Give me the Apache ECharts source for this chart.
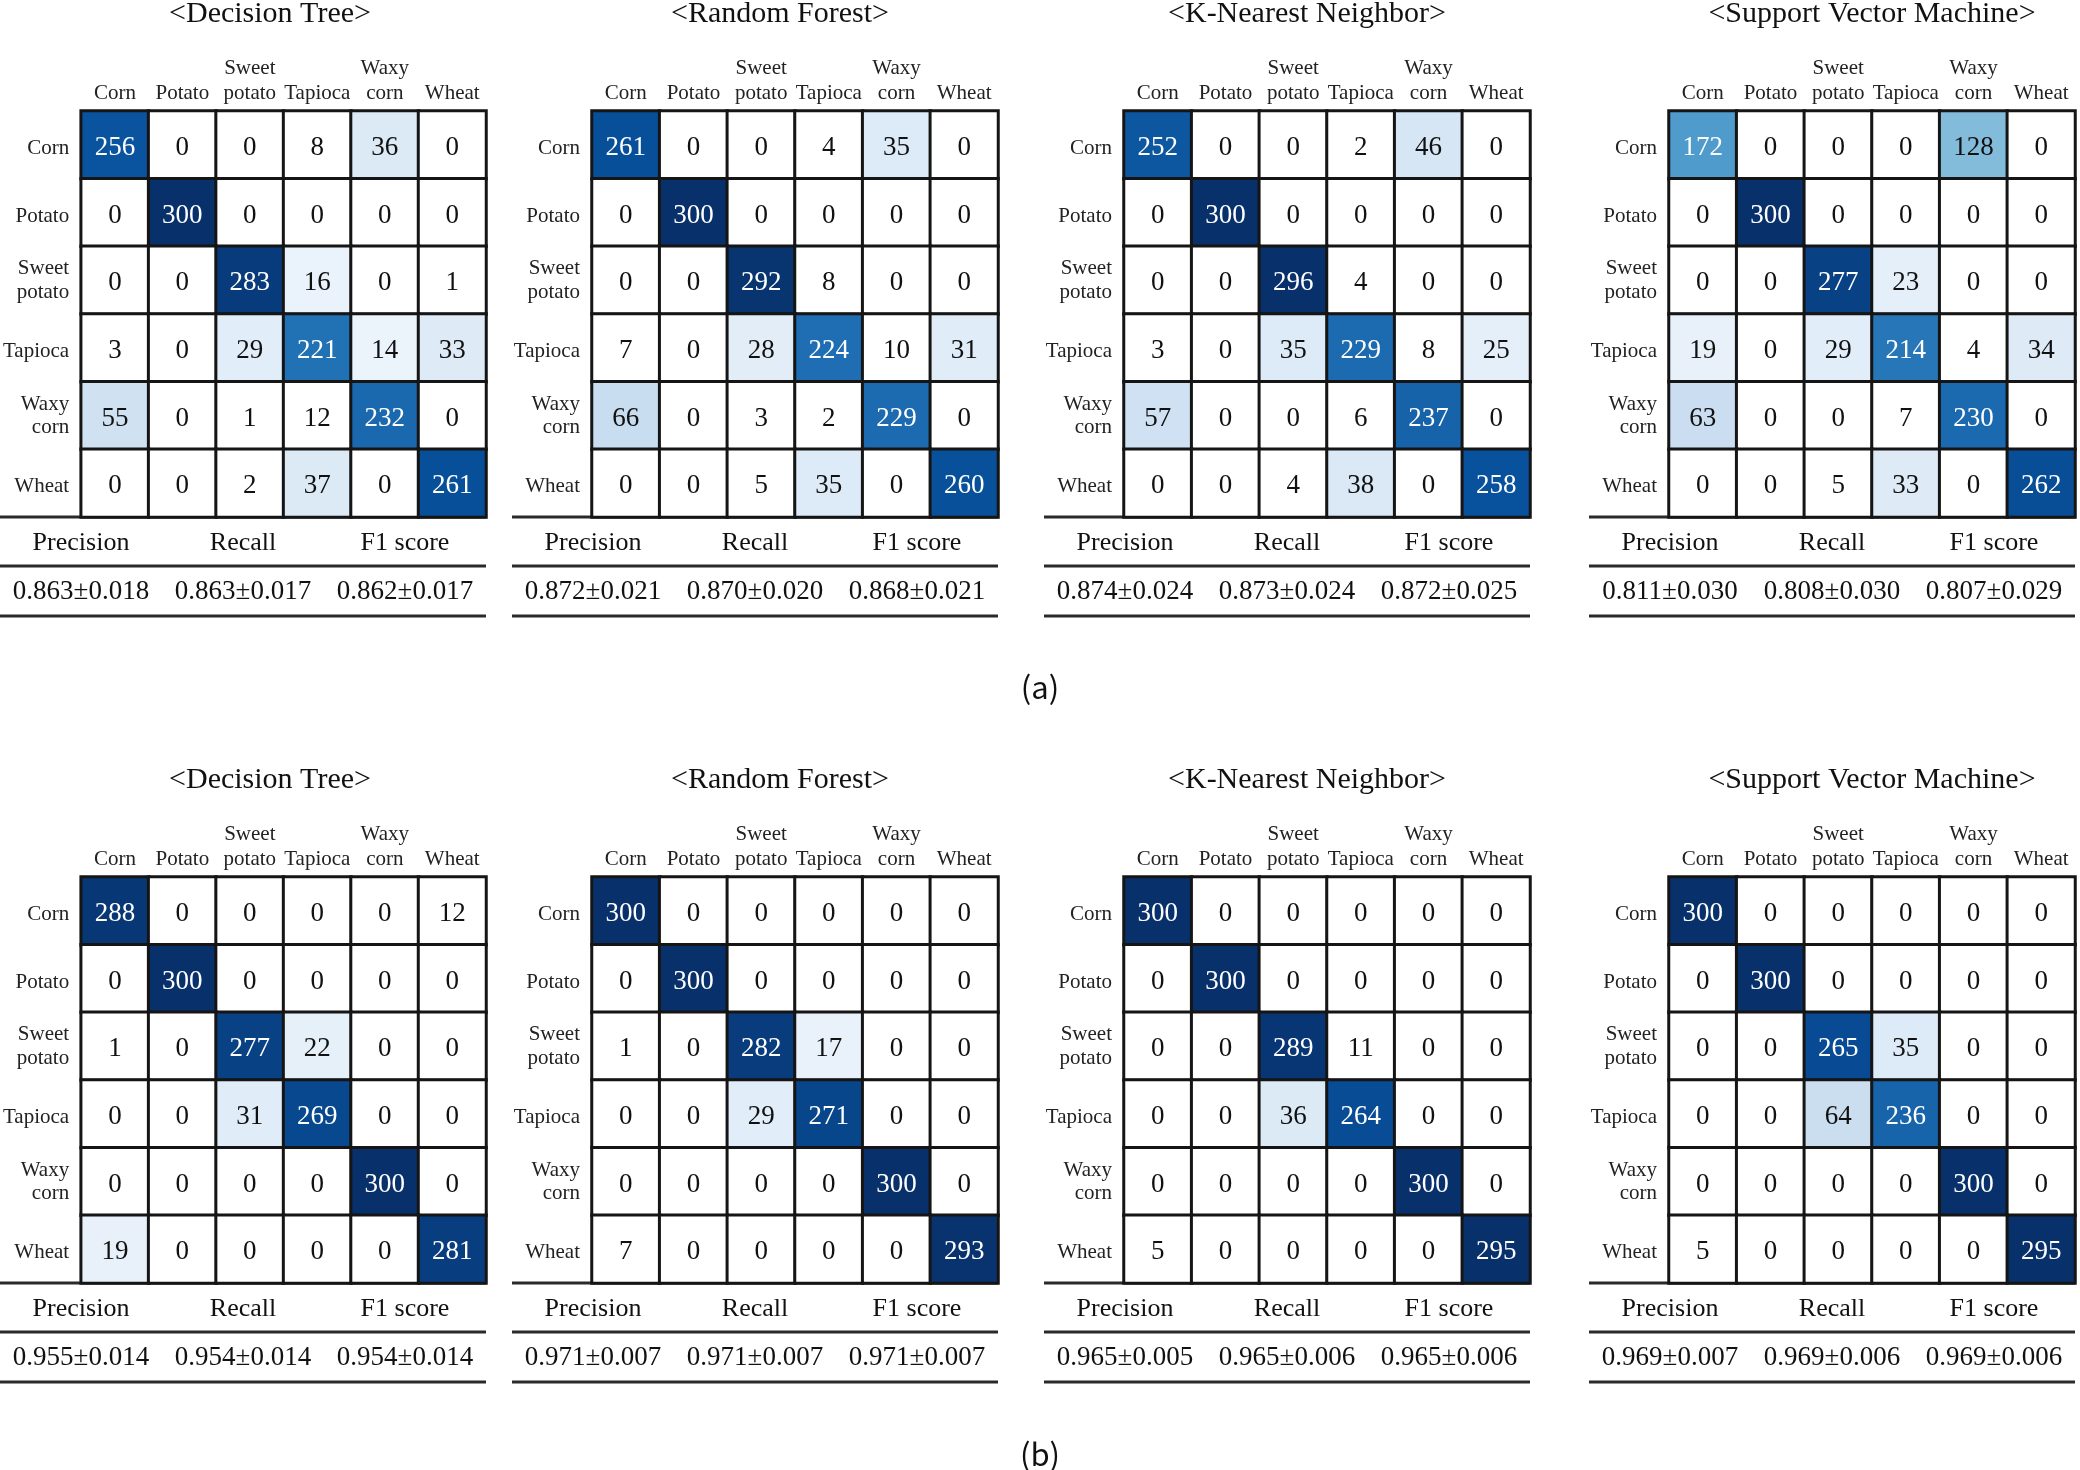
<!DOCTYPE html>
<html>
<head>
<meta charset="utf-8">
<script src="https://cdn.jsdelivr.net/npm/echarts@6/dist/echarts.min.js"></script>
<style>html,body{margin:0;padding:0;background:#fff}#c{width:2080px;height:1470px}</style>
</head>
<body>
<div id="c"></div>
<script>
// ---------- data ----------
const categories = ['Corn', 'Potato', 'Sweet\npotato', 'Tapioca', 'Waxy\ncorn', 'Wheat'];
const modelTitles = ['<Decision Tree>', '<Random Forest>', '<K-Nearest Neighbor>', '<Support Vector Machine>'];
const metricNames = ['Precision', 'Recall', 'F1 score'];
const panelLabels = ['(a)', '(b)'];

// (a)
const dtA = [
  [256, 0, 0, 8, 36, 0],
  [0, 300, 0, 0, 0, 0],
  [0, 0, 283, 16, 0, 1],
  [3, 0, 29, 221, 14, 33],
  [55, 0, 1, 12, 232, 0],
  [0, 0, 2, 37, 0, 261]
];
const rfA = [
  [261, 0, 0, 4, 35, 0],
  [0, 300, 0, 0, 0, 0],
  [0, 0, 292, 8, 0, 0],
  [7, 0, 28, 224, 10, 31],
  [66, 0, 3, 2, 229, 0],
  [0, 0, 5, 35, 0, 260]
];
const knnA = [
  [252, 0, 0, 2, 46, 0],
  [0, 300, 0, 0, 0, 0],
  [0, 0, 296, 4, 0, 0],
  [3, 0, 35, 229, 8, 25],
  [57, 0, 0, 6, 237, 0],
  [0, 0, 4, 38, 0, 258]
];
const svmA = [
  [172, 0, 0, 0, 128, 0],
  [0, 300, 0, 0, 0, 0],
  [0, 0, 277, 23, 0, 0],
  [19, 0, 29, 214, 4, 34],
  [63, 0, 0, 7, 230, 0],
  [0, 0, 5, 33, 0, 262]
];
// (b)
const dtB = [
  [288, 0, 0, 0, 0, 12],
  [0, 300, 0, 0, 0, 0],
  [1, 0, 277, 22, 0, 0],
  [0, 0, 31, 269, 0, 0],
  [0, 0, 0, 0, 300, 0],
  [19, 0, 0, 0, 0, 281]
];
const rfB = [
  [300, 0, 0, 0, 0, 0],
  [0, 300, 0, 0, 0, 0],
  [1, 0, 282, 17, 0, 0],
  [0, 0, 29, 271, 0, 0],
  [0, 0, 0, 0, 300, 0],
  [7, 0, 0, 0, 0, 293]
];
const knnB = [
  [300, 0, 0, 0, 0, 0],
  [0, 300, 0, 0, 0, 0],
  [0, 0, 289, 11, 0, 0],
  [0, 0, 36, 264, 0, 0],
  [0, 0, 0, 0, 300, 0],
  [5, 0, 0, 0, 0, 295]
];
const svmB = [
  [300, 0, 0, 0, 0, 0],
  [0, 300, 0, 0, 0, 0],
  [0, 0, 265, 35, 0, 0],
  [0, 0, 64, 236, 0, 0],
  [0, 0, 0, 0, 300, 0],
  [5, 0, 0, 0, 0, 295]
];

const metricsDtA = ['0.863\u00b10.018', '0.863\u00b10.017', '0.862\u00b10.017'];
const metricsRfA = ['0.872\u00b10.021', '0.870\u00b10.020', '0.868\u00b10.021'];
const metricsKnnA = ['0.874\u00b10.024', '0.873\u00b10.024', '0.872\u00b10.025'];
const metricsSvmA = ['0.811\u00b10.030', '0.808\u00b10.030', '0.807\u00b10.029'];
const metricsDtB = ['0.955\u00b10.014', '0.954\u00b10.014', '0.954\u00b10.014'];
const metricsRfB = ['0.971\u00b10.007', '0.971\u00b10.007', '0.971\u00b10.007'];
const metricsKnnB = ['0.965\u00b10.005', '0.965\u00b10.006', '0.965\u00b10.006'];
const metricsSvmB = ['0.969\u00b10.007', '0.969\u00b10.006', '0.969\u00b10.006'];

const matrices = [[dtA, rfA, knnA, svmA], [dtB, rfB, knnB, svmB]];
const metrics = [[metricsDtA, metricsRfA, metricsKnnA, metricsSvmA], [metricsDtB, metricsRfB, metricsKnnB, metricsSvmB]];

// ---------- colour scale (Blues, near-zero values shown white) ----------
const bluesStops = ['#f7fbff', '#deebf7', '#c6dbef', '#9ecae1', '#6baed6', '#4292c6', '#2171b5', '#08519c', '#08306b'];
function hex2rgb(h) { return [parseInt(h.slice(1, 3), 16), parseInt(h.slice(3, 5), 16), parseInt(h.slice(5, 7), 16)]; }
function blues(t) {
  const p = Math.max(0, Math.min(1, t)) * (bluesStops.length - 1);
  const i = Math.min(Math.floor(p), bluesStops.length - 2), f = p - i;
  const a = hex2rgb(bluesStops[i]), b = hex2rgb(bluesStops[i + 1]);
  return 'rgb(' + a.map((c, k) => Math.round(c + (b[k] - c) * f)).join(',') + ')';
}
const colorRamp = [];
for (let v = 0; v <= 300; v++) colorRamp.push(v <= 13 ? '#ffffff' : blues((v + 4) / 300));

// ---------- layout ----------
const SERIF = '"Liberation Serif", "Times New Roman", serif';
const gridLefts = [80, 592, 1124, 1669];
const titleXs = [270, 780, 1307, 1872];
const rowTops = [111, 877];
const SIZE = 406;
const TABLE_W = 486;
const labelYs = [687, 1454];

const rowLabelRich = {
  a: { fontFamily: SERIF, fontSize: 21, lineHeight: 24, color: '#222', padding: [7, 0, 0, 0] },
  b: { fontFamily: SERIF, fontSize: 21, lineHeight: 30, color: '#222' }
};
function rowLabelFormatter(v) {
  return v.split('\n').map((s, i) => (i === 0 ? '{a|' : '{b|') + s + '}').join('\n');
}

const grids = [], xAxes = [], yAxes = [], series = [], graphics = [];
let idx = 0;
for (let r = 0; r < 2; r++) {
  for (let m = 0; m < 4; m++) {
    const left = gridLefts[m], top = rowTops[r];
    grids.push({ left: left, top: top, width: SIZE, height: SIZE, containLabel: false });
    xAxes.push({
      type: 'category', gridIndex: idx, data: categories, position: 'top',
      axisLine: { show: false }, axisTick: { show: false }, splitLine: { show: false },
      axisLabel: { interval: 0, margin: 5, fontFamily: SERIF, fontSize: 21, lineHeight: 25, color: '#222' }
    });
    yAxes.push({
      type: 'category', gridIndex: idx, data: categories, inverse: true,
      axisLine: { show: false }, axisTick: { show: false }, splitLine: { show: false },
      axisLabel: { interval: 0, margin: 12, fontFamily: SERIF, fontSize: 21, lineHeight: 24, color: '#222',
        formatter: rowLabelFormatter, rich: rowLabelRich }
    });
    const mat = matrices[r][m];
    const data = [];
    for (let i = 0; i < 6; i++) for (let j = 0; j < 6; j++) {
      const v = mat[i][j];
      data.push({ value: [j, i, v], label: { color: v > 150 ? '#ffffff' : '#111111' } });
    }
    series.push({
      type: 'heatmap', xAxisIndex: idx, yAxisIndex: idx, data: data,
      itemStyle: { borderColor: '#151515', borderWidth: 3 },
      label: { show: true, fontFamily: SERIF, fontSize: 27, offset: [0, 3], formatter: p => p.value[2] },
      emphasis: { disabled: true }
    });
    // title
    graphics.push({
      type: 'text', silent: true,
      style: { text: modelTitles[m], x: titleXs[m], y: top - 97, font: '30px ' + SERIF,
        textAlign: 'center', textVerticalAlign: 'middle', align: 'center', verticalAlign: 'middle', fill: '#111' }
    });
    // table
    const tRight = left + SIZE, tLeft = tRight - TABLE_W, bottom = top + SIZE;
    [0, 49, 99].forEach(dy => {
      graphics.push({ type: 'line', silent: true,
        shape: { x1: tLeft, y1: bottom + dy, x2: tRight, y2: bottom + dy },
        style: { stroke: '#2a2a2a', lineWidth: 3 } });
    });
    for (let k = 0; k < 3; k++) {
      const cx = tLeft + TABLE_W * (2 * k + 1) / 6;
      graphics.push({ type: 'text', silent: true,
        style: { text: metricNames[k], x: cx, y: bottom + 26, font: '26px ' + SERIF,
          textAlign: 'center', textVerticalAlign: 'middle', align: 'center', verticalAlign: 'middle', fill: '#111' } });
      graphics.push({ type: 'text', silent: true,
        style: { text: metrics[r][m][k], x: cx, y: bottom + 75, font: '27px ' + SERIF,
          textAlign: 'center', textVerticalAlign: 'middle', align: 'center', verticalAlign: 'middle', fill: '#111' } });
    }
    idx++;
  }
  graphics.push({ type: 'text', silent: true,
    style: { text: panelLabels[r], x: 1040, y: labelYs[r], font: '31px "Noto Sans CJK KR", "Noto Sans", sans-serif',
      textAlign: 'center', textVerticalAlign: 'middle', align: 'center', verticalAlign: 'middle', fill: '#111' } });
}

const chart = echarts.init(document.getElementById('c'), null, { renderer: 'canvas' });
chart.setOption({
  backgroundColor: '#ffffff',
  animation: false,
  grid: grids,
  xAxis: xAxes,
  yAxis: yAxes,
  visualMap: {
    show: false, min: 0, max: 300, seriesIndex: series.map((s, i) => i), dimension: 2,
    inRange: { color: colorRamp }
  },
  series: series,
  graphic: graphics
});
</script>
</body>
</html>
